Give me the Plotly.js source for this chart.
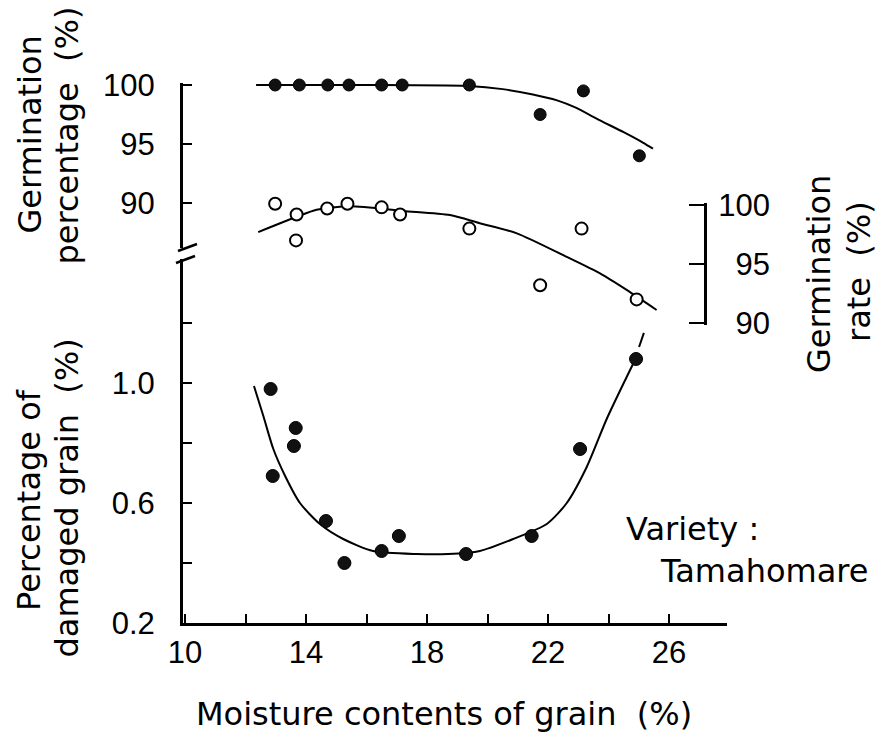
<!DOCTYPE html>
<html><head><meta charset="utf-8">
<script src="https://cdn.plot.ly/plotly-3.0.1.min.js"></script>
<style>html,body{margin:0;padding:0;background:#fff;} #chart{width:885px;height:741px;}</style>
</head><body><div id="chart"></div>
<script>
// ---- Germination percentage (filled circles, left upper axis) ----
const germX = [12.98, 13.78, 14.72, 15.42, 16.50, 17.18, 19.40, 21.74, 23.17, 25.02];
const germY = [100, 100, 100, 100, 100, 100, 100, 97.5, 99.5, 94.0];
const germFitX = [12.35, 16.0, 19.39, 20.5, 21.5, 22.3, 22.9, 23.72, 24.5, 25.15, 25.47];
const germFitY = [100, 100, 99.92, 99.65, 99.2, 98.7, 98.1, 97.0, 96.0, 95.1, 94.6];

// ---- Germination rate (open circles, right axis) ----
const rateX = [12.98, 13.69, 13.67, 14.70, 15.37, 16.50, 17.11, 19.40, 21.74, 23.11, 24.93];
const rateY = [100.1, 99.2, 97.0, 99.7, 100.1, 99.8, 99.2, 98.0, 93.2, 98.0, 92.0];
const rateFitX = [12.42, 13.69, 14.35, 15.45, 17.22, 18.76, 19.75, 20.97, 22.62, 23.72, 24.60, 25.59];
const rateFitY = [97.7, 99.0, 99.6, 99.9, 99.5, 99.15, 98.45, 97.6, 95.6, 94.2, 92.8, 91.1];

// ---- Percentage of damaged grain (filled circles, left lower axis) ----
const dmgX = [12.83, 12.90, 13.60, 13.66, 14.66, 15.27, 16.50, 17.07, 19.29, 21.46, 23.06, 24.91];
const dmgY = [0.98, 0.69, 0.79, 0.85, 0.54, 0.40, 0.44, 0.49, 0.43, 0.49, 0.78, 1.08];
const dmgFitX = [12.28, 12.59, 12.92, 13.31, 13.80, 14.46, 15.23, 16.22, 17.66, 18.70, 19.75, 20.85, 21.96, 22.62, 23.28, 23.94, 24.60, 24.94];
const dmgFitY = [0.99, 0.89, 0.78, 0.69, 0.60, 0.53, 0.48, 0.44, 0.43, 0.43, 0.44, 0.48, 0.53, 0.60, 0.72, 0.88, 1.02, 1.09];
const dmgExtX = [25.01, 25.17];
const dmgExtY = [1.12, 1.167];

// ---- tick labels ----
const xTickVals = [10, 12, 14, 16, 18, 20, 22, 24, 26];
const xTickText = ['10', '', '14', '', '18', '', '22', '', '26'];
const dmgTickVals = [0.2, 0.4, 0.6, 0.8, 1.0, 1.2];
const dmgTickText = ['0.2', '', '0.6', '', '1.0', ''];
const germTickVals = [90, 95, 100];
const germTickText = ['90', '95', '100'];
const rateTickVals = [90, 95, 100];
const rateTickText = ['\u00a0\u00a090', '\u00a0\u00a095', '100'];

const TICKFONT = {family: '"Liberation Sans", Arial, sans-serif', size: 31, color: '#000'};
const TFONT = {family: '"DejaVu Sans", sans-serif', size: 32, color: '#000'};

const traces = [
  {x: dmgFitX, y: dmgFitY, xaxis: 'x', yaxis: 'y', mode: 'lines', line: {color: '#000', width: 2, shape: 'spline', smoothing: 0.7}},
  {x: dmgExtX, y: dmgExtY, xaxis: 'x', yaxis: 'y', mode: 'lines', line: {color: '#000', width: 2}},
  {x: dmgX, y: dmgY, xaxis: 'x', yaxis: 'y', mode: 'markers', cliponaxis: false,
   marker: {symbol: 'circle', size: 13, color: '#111', line: {color: '#000', width: 1}}},
  {x: [], y: [], xaxis: 'x', yaxis: 'y2', mode: 'markers'},
  {x: germFitX, y: germFitY, xaxis: 'x', yaxis: 'y3', mode: 'lines', line: {color: '#000', width: 2, shape: 'spline', smoothing: 0.6}},
  {x: germX, y: germY, xaxis: 'x', yaxis: 'y3', mode: 'markers', cliponaxis: false,
   marker: {symbol: 'circle', size: 12, color: '#111', line: {color: '#000', width: 1}}},
  {x: rateFitX, y: rateFitY, xaxis: 'x', yaxis: 'y4', mode: 'lines', line: {color: '#000', width: 2, shape: 'spline', smoothing: 0.7}},
  {x: rateX, y: rateY, xaxis: 'x', yaxis: 'y4', mode: 'markers', cliponaxis: false,
   marker: {symbol: 'circle', size: 12, color: '#fff', line: {color: '#000', width: 2}}},
  {x: [], y: [], xaxis: 'x', yaxis: 'y5', mode: 'markers'}
];
traces.forEach(t => { t.showlegend = false; t.hoverinfo = 'skip'; });

const axBase = {showgrid: false, zeroline: false, showline: true, linecolor: '#000', linewidth: 3,
  ticks: 'inside', ticklen: 9, tickwidth: 2, tickcolor: '#000', tickfont: TICKFONT, tickmode: 'array'};

function px2x(p) { return (p - 183) / 544; }
function py2y(p) { return (623 - p) / 563; }

const layout = {
  width: 885, height: 741,
  font: {family: '"DejaVu Sans", sans-serif', color: '#000'},
  margin: {l: 183, r: 158, t: 60, b: 118, pad: 0},
  paper_bgcolor: '#fff', plot_bgcolor: 'rgba(0,0,0,0)',
  showlegend: false, hovermode: false,
  xaxis: Object.assign({}, axBase, {range: [9.934, 27.917], tickvals: xTickVals, ticktext: xTickText,
    anchor: 'y', ticklabelstandoff: 0}),
  yaxis: Object.assign({}, axBase, {domain: [0, py2y(259)], range: [0.2, 1.4133], tickvals: dmgTickVals,
    ticktext: dmgTickText, anchor: 'x', ticklabelstandoff: 19}),
  yaxis2: Object.assign({}, axBase, {domain: [py2y(248), py2y(83)], range: [86.186, 100.169], tickvals: germTickVals,
    ticktext: germTickText, anchor: 'x', ticklabelstandoff: 19}),
  yaxis3: {domain: [0, 1], range: [54.407, 102.119], anchor: 'x', visible: false, showgrid: false, zeroline: false},
  yaxis4: {overlaying: 'y3', range: [64.576, 112.288], anchor: 'x', visible: false, showgrid: false, zeroline: false},
  yaxis5: Object.assign({}, axBase, {domain: [py2y(325), py2y(203)], range: [89.831, 100.169], tickvals: rateTickVals,
    ticktext: rateTickText, anchor: 'free', position: px2x(705), side: 'right', ticklen: 15, ticklabelstandoff: 5}),
  shapes: [
    {type: 'line', xref: 'paper', yref: 'paper', x0: px2x(178), y0: py2y(251), x1: px2x(197), y1: py2y(244), line: {color: '#000', width: 2.5}},
    {type: 'line', xref: 'paper', yref: 'paper', x0: px2x(176), y0: py2y(263), x1: px2x(195), y1: py2y(256), line: {color: '#000', width: 2.5}}
  ],
  annotations: [
    {text: 'Germination', x: px2x(29), y: py2y(134.5), textangle: -90},
    {text: 'percentage\u00a0\u00a0(%)', x: px2x(66), y: py2y(135.5), textangle: -90},
    {text: 'Percentage of', x: px2x(29), y: py2y(500), textangle: -90},
    {text: 'damaged grain\u00a0\u00a0(%)', x: px2x(66), y: py2y(498.5), textangle: -90},
    {text: 'Germination', x: px2x(819), y: py2y(274), textangle: -90},
    {text: 'rate\u00a0\u00a0(%)', x: px2x(859), y: py2y(272), textangle: -90},
    {text: 'Moisture contents of grain\u00a0\u00a0(%)', x: px2x(444), y: py2y(714)},
    {text: 'Variety :', x: px2x(624), y: py2y(529), xanchor: 'left'},
    {text: 'Tamahomare', x: px2x(658), y: py2y(571), xanchor: 'left'}
  ].map(a => Object.assign({xref: 'paper', yref: 'paper', showarrow: false, font: TFONT,
    xanchor: 'center', yanchor: 'middle'}, a))
};

Plotly.newPlot('chart', traces, layout, {staticPlot: true, displayModeBar: false});
</script></body></html>
